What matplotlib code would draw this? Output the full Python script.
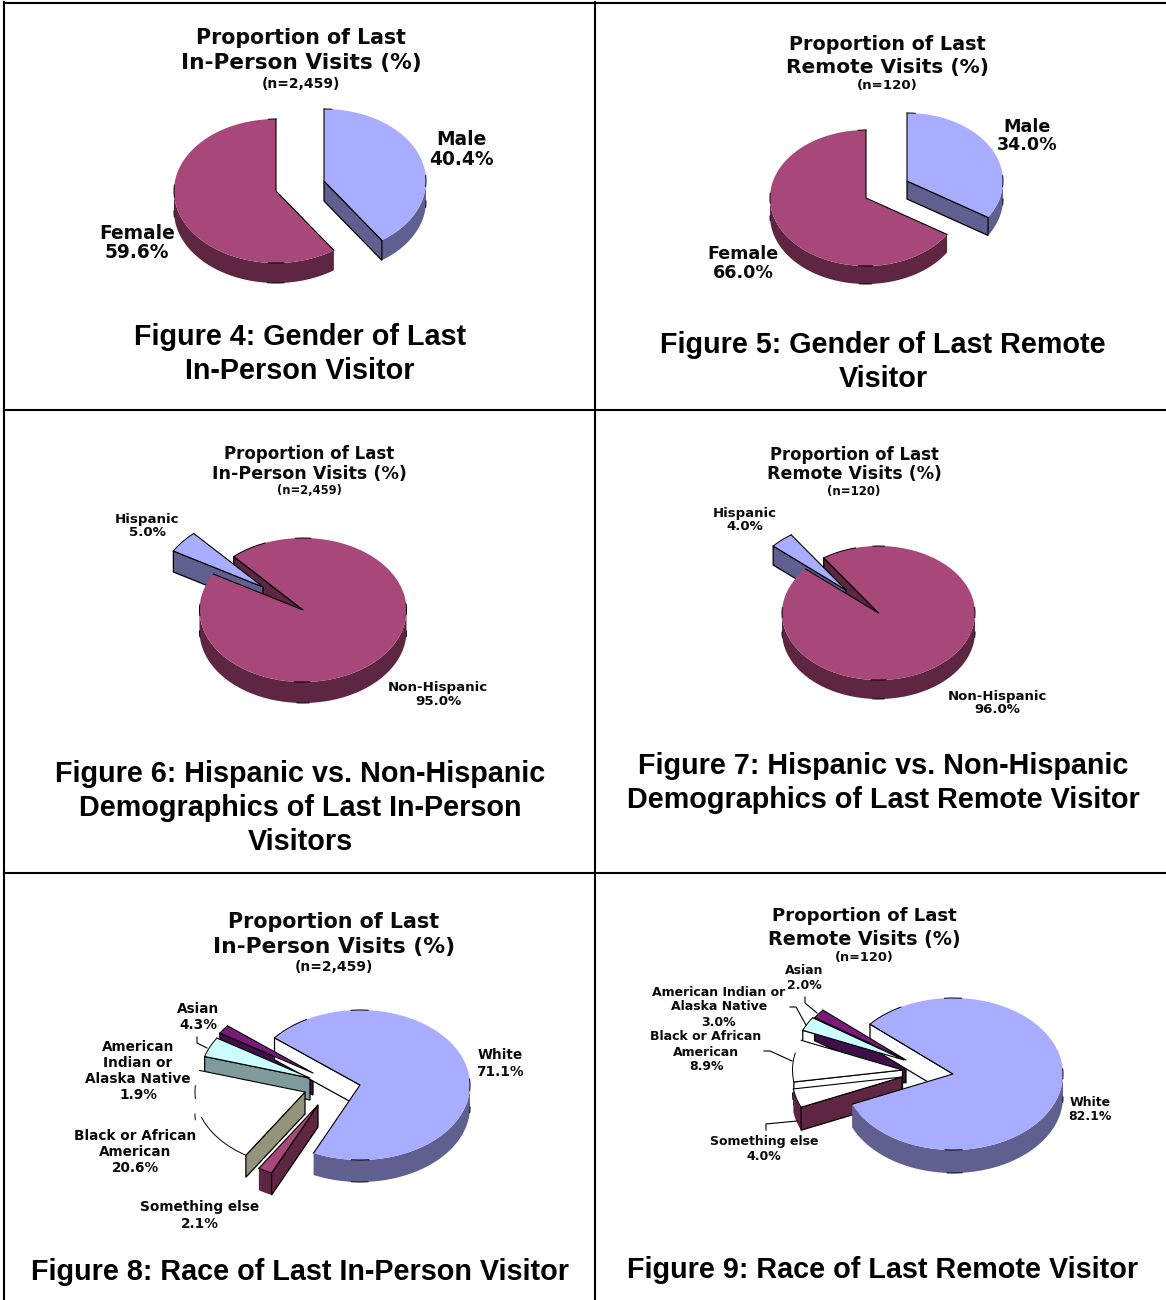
import matplotlib
matplotlib.use('Agg')
import matplotlib.pyplot as plt
import numpy as np

# values
gender_labels = ['Male', 'Female']
inperson_gender = [40.4, 59.6]
remote_gender = [34.0, 66.0]
hisp_labels = ['Hispanic', 'Non-Hispanic']
inperson_hisp = [5.0, 95.0]
remote_hisp = [4.0, 96.0]
race8_labels = ['White', 'Something else', 'Black or African\nAmerican', 'Asian',
                'American\nIndian or\nAlaska Native']
inperson_race = [71.1, 2.1, 20.6, 4.3, 1.9]
race9_labels = ['White', 'Something else', 'Black or African\nAmerican', 'American Indian or\nAlaska Native', 'Asian']
remote_race = [82.1, 4.0, 8.9, 3.0, 2.0]

BLUE, BLUE_D = '#a9adff', '#606090'
MAROON, MAROON_D = '#a8487a', '#5f2642'
CYAN, PURPLE, PURPLE_D = '#ccffff', '#7c1a7c', '#3f0f4a'


def ell(cx, cy, rx, ry, a):
    a = np.radians(a)
    return cx + rx * np.sin(a), cy - ry * np.cos(a)


def poly(ax, xs, ys, fc, ec='none', lw=0.0, z=2):
    ax.fill(xs, ys, facecolor=fc, edgecolor=ec, linewidth=lw, zorder=z)


def scraps(t, a0):
    # only scraps of the rim outline survive in the picture
    return np.minimum.reduce([np.abs((t % 360) - m) for m in (0, 90, 180, 270, 360)]) < 5


def draw_sides(ax, a0, a1, c, rx, ry, depth, rim, cut, z):
    cx, cy = c
    # outer band, only the front half of the rim shows
    for k in (0, 1):
        lo, hi = max(a0, 90 + 360 * k), min(a1, 270 + 360 * k)
        if lo < hi:
            t = np.linspace(lo, hi, 80)
            x, y = ell(cx, cy, rx, ry, t)
            poly(ax, np.r_[x, x[::-1]], np.r_[y, y[::-1] + depth], rim, z=z)
            ax.plot(x, np.where(scraps(t, a0), y + depth, np.nan), color='black', lw=0.7, zorder=z)
    # cut faces towards the viewer
    for a, show in ((a0, np.sin(np.radians(a0)) < -1e-6), (a1, np.sin(np.radians(a1)) > 1e-6)):
        if show:
            x, y = ell(cx, cy, rx, ry, a)
            poly(ax, [cx, x, x, cx], [cy, y, y + depth, cy + depth], cut, 'black', 0.9, z)


def draw_top(ax, a0, a1, c, rx, ry, top, z, arc=None):
    cx, cy = c
    t = np.linspace(a0, a1, 200)
    x, y = ell(cx, cy, rx, ry, t)
    poly(ax, np.r_[cx, x], np.r_[cy, y], top, z=z)
    ax.plot([x[0], cx, x[-1]], [y[0], cy, y[-1]], color='black', lw=0.8, zorder=z)
    near = scraps(t, a0)
    if np.sin(np.radians(a0)) < 0:
        near |= (t - a0) < 22
    if arc is not None:
        near |= (t >= a0 + arc[0]) & (t <= a0 + arc[1])
    ax.plot(x, np.where(near, y, np.nan), color='black', lw=0.7, zorder=z)


def draw_pie(ax, values, start, centers, rx, ry, depth, tops, rims, cuts, side_order, top_order, arcs={}):
    edges = start + np.cumsum(np.r_[0, values]) * 3.6
    for n, i in enumerate(side_order):
        draw_sides(ax, edges[i], edges[i + 1], centers[i], rx, ry, depth, rims[i], cuts[i], 2 + n * 0.01)
    for n, i in enumerate(top_order):
        draw_top(ax, edges[i], edges[i + 1], centers[i], rx, ry, tops[i], 3 + n * 0.01, arcs.get(i))


def label(ax, x, y, s, fs, ls=1.05):
    ax.text(x, y, s, ha='center', va='center', fontsize=fs, fontweight='bold', family='DejaVu Sans',
            color='#0a0a0a', linespacing=ls, zorder=6)


def heading(ax, x, y1, y2, y3, l1, l2, n, fs, fs_n):
    label(ax, x, y1, l1, fs)
    label(ax, x, y2, l2, fs * 1.05)
    label(ax, x, y3, n, fs_n)


def caption(ax, x, ys, lines):
    for y, s in zip(ys, lines):
        ax.text(x, y, s, ha='center', va='center', fontsize=20.7, fontweight='bold',
                family='Liberation Sans', color='black', zorder=6)


def leader(ax, xs, ys):
    ax.plot(xs, ys, color='black', lw=0.8, zorder=5)


fig = plt.figure(figsize=(11.66, 13), dpi=100)
ax = fig.add_axes([0, 0, 1, 1])
ax.set_xlim(0, 1166)
ax.set_ylim(1300, 0)
ax.axis('off')

# table rules
for xs, ys in (([4, 4], [2, 1300]), ([595, 595], [2, 1300]), ([4, 1166], [3, 3]),
               ([4, 1166], [410, 410]), ([4, 1166], [873, 873])):
    ax.plot(xs, ys, color='black', lw=1.5, zorder=1)

# Figure 4
heading(ax, 301, 38, 63, 84, 'Proportion of Last', 'In-Person Visits (%)', '(n=2,459)', 14.8, 10)
draw_pie(ax, inperson_gender, 0, [(324, 181), (276, 191)], 102, 72, 20,
         [BLUE, MAROON], [BLUE_D, MAROON_D], [BLUE_D, MAROON_D], [0, 1], [0, 1])
label(ax, 461, 149.5, f'{gender_labels[0]}\n{inperson_gender[0]:.1f}%', 13.4)
label(ax, 137, 243, f'{gender_labels[1]}\n{inperson_gender[1]:.1f}%', 13.4)
caption(ax, 300, [337, 371], ['Figure 4: Gender of Last', 'In-Person Visitor'])

# Figure 5
heading(ax, 887, 45, 67, 86, 'Proportion of Last', 'Remote Visits (%)', '(n=120)', 13.8, 9.6)
draw_pie(ax, remote_gender, 0, [(907, 181), (866, 198)], 96, 68, 18,
         [BLUE, MAROON], [BLUE_D, MAROON_D], [BLUE_D, MAROON_D], [0, 1], [0, 1])
label(ax, 1027, 136, f'{gender_labels[0]}\n{remote_gender[0]:.1f}%', 12.6)
label(ax, 743, 263.5, f'{gender_labels[1]}\n{remote_gender[1]:.1f}%', 12.6)
caption(ax, 883, [345, 379], ['Figure 5: Gender of Last Remote', 'Visitor'])

# Figure 6
heading(ax, 309, 454, 474, 491, 'Proportion of Last', 'In-Person Visits (%)', '(n=2,459)', 12, 8.3)
draw_pie(ax, inperson_hisp, 300, [(263, 587), (303, 610)], 103.5, 72, 21,
         [BLUE, MAROON], [BLUE_D, MAROON_D], [BLUE_D, MAROON_D], [1, 0], [0, 1])
label(ax, 147, 526, f'{hisp_labels[0]}\n{inperson_hisp[0]:.1f}%', 9.6)
label(ax, 438, 694.5, f'{hisp_labels[1]}\n{inperson_hisp[1]:.1f}%', 9.6)
caption(ax, 300, [774, 808, 842], ['Figure 6: Hispanic vs. Non-Hispanic',
                                   'Demographics of Last In-Person', 'Visitors'])

# Figure 7
heading(ax, 854, 455, 474, 491, 'Proportion of Last', 'Remote Visits (%)', '(n=120)', 11.9, 8.5)
draw_pie(ax, remote_hisp, 311, [(846, 590), (878.5, 613)], 96.5, 67, 19,
         [BLUE, MAROON], [BLUE_D, MAROON_D], [BLUE_D, MAROON_D], [1, 0], [0, 1])
label(ax, 745, 520, f'{hisp_labels[0]}\n{remote_hisp[0]:.1f}%', 9.5)
label(ax, 997, 703, f'{hisp_labels[1]}\n{remote_hisp[1]:.1f}%', 9.5)
caption(ax, 883, [766, 800], ['Figure 7: Hispanic vs. Non-Hispanic',
                              'Demographics of Last Remote Visitor'])

# Figure 8
heading(ax, 334, 922, 947, 967, 'Proportion of Last', 'In-Person Visits (%)', '(n=2,459)', 14.9, 10)
draw_pie(ax, inperson_race, 309,
         [(360, 1085), (318, 1105), (305, 1092), (310, 1078), (313, 1073)], 110, 75, 22,
         [BLUE, MAROON, 'white', CYAN, PURPLE],
         [BLUE_D, MAROON_D, 'white', '#7f9a9a', PURPLE_D],
         ['white', MAROON_D, '#94947a', '#7f9a9a', PURPLE_D],
         [4, 3, 0, 2, 1], [4, 3, 0, 2, 1], arcs={2: (0, 38)})
leader(ax, [197, 197, 207], [1037, 1043, 1048])
vals = inperson_race
label(ax, 500, 1063.5, f'{race8_labels[0]}\n{vals[0]:.1f}%', 9.85, 1.2)
label(ax, 198, 1017, f'{race8_labels[3]}\n{vals[3]:.1f}%', 9.85, 1.2)
label(ax, 138, 1071, f'{race8_labels[4]}\n{vals[4]:.1f}%', 9.85, 1.2)
label(ax, 135, 1152, f'{race8_labels[2]}\n{vals[2]:.1f}%', 9.85, 1.2)
label(ax, 200, 1215.5, f'{race8_labels[1]}\n{vals[1]:.1f}%', 9.85, 1.2)
caption(ax, 300, [1272], ['Figure 8: Race of Last In-Person Visitor'])

# Figure 9
heading(ax, 864, 916, 939, 957, 'Proportion of Last', 'Remote Visits (%)', '(n=120)', 13.1, 9.3)
draw_pie(ax, remote_race, 311,
         [(953, 1074), (902, 1077), (902.5, 1070), (904, 1060), (906, 1060)], 110, 76, 23,
         [BLUE, 'white', 'white', CYAN, PURPLE],
         [BLUE_D, MAROON_D, 'white', 'white', PURPLE_D],
         ['white', MAROON_D, 'white', 'white', PURPLE_D],
         [3, 4, 2, 1, 0], [4, 3, 2, 1, 0], arcs={1: (0, 8)})
leader(ax, [805, 805, 817], [997, 1003, 1013])
leader(ax, [790, 796, 806], [1007, 1007, 1025])
leader(ax, [764, 770, 792], [1051, 1051, 1061])
leader(ax, [766, 766, 797], [1130, 1124, 1121])
vals = remote_race
label(ax, 1090, 1109.5, f'{race9_labels[0]}\n{vals[0]:.1f}%', 9, 1.2)
label(ax, 804, 978, f'{race9_labels[4]}\n{vals[4]:.1f}%', 9, 1.2)
label(ax, 719, 1007, f'{race9_labels[3]}\n{vals[3]:.1f}%', 9, 1.2)
label(ax, 706, 1052, f'{race9_labels[2]}\n{vals[2]:.1f}%', 9, 1.2)
label(ax, 764, 1149, f'{race9_labels[1]}\n{vals[1]:.1f}%', 9, 1.2)
caption(ax, 883, [1270], ['Figure 9: Race of Last Remote Visitor'])

fig.savefig('out.png', dpi=100)
